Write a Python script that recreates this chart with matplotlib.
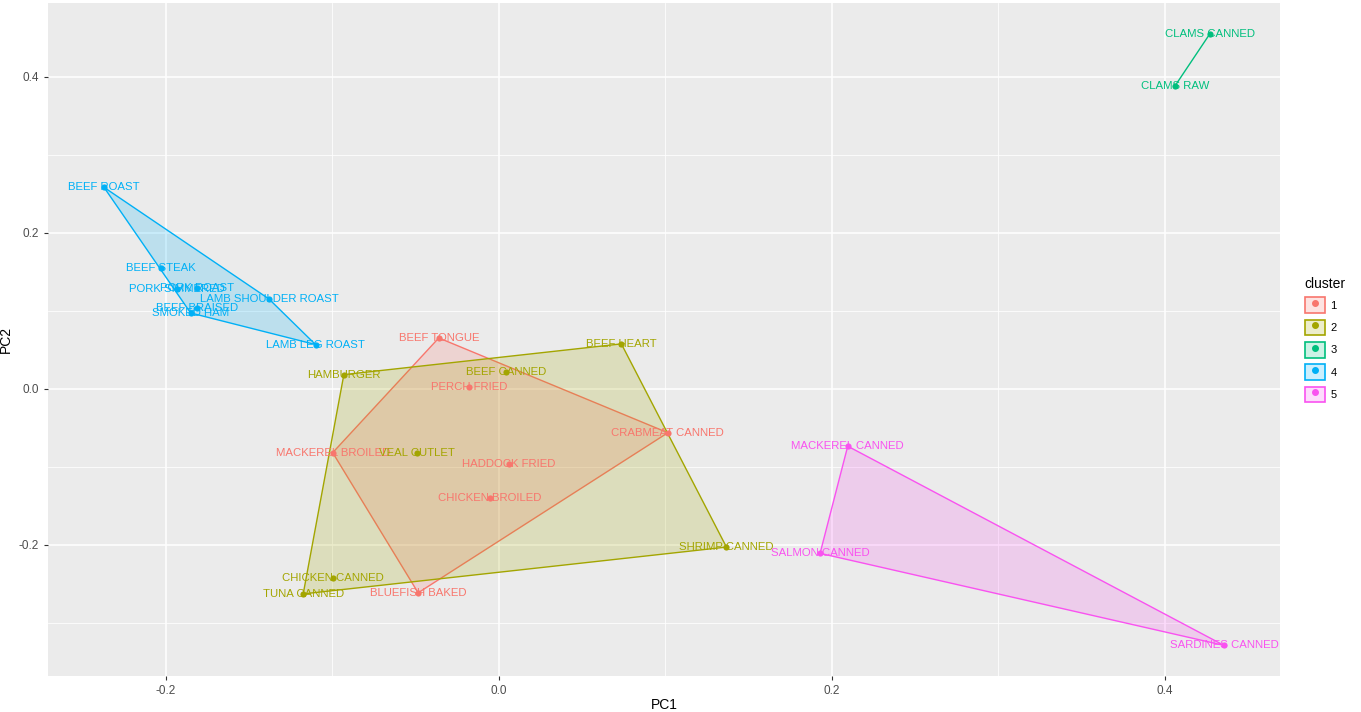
import numpy as np
import matplotlib
matplotlib.use('Agg')
from matplotlib import pyplot as plt
from matplotlib.patches import Polygon, Patch
from matplotlib.lines import Line2D
from matplotlib.legend_handler import HandlerTuple

# food items, PCA scores
names = ['BEEF TONGUE', 'PERCH FRIED', 'CRABMEAT CANNED', 'MACKEREL BROILED',
         'HADDOCK FRIED', 'CHICKEN BROILED', 'BLUEFISH BAKED',
         'BEEF HEART', 'HAMBURGER', 'BEEF CANNED', 'VEAL CUTLET',
         'CHICKEN CANNED', 'TUNA CANNED', 'SHRIMP CANNED',
         'CLAMS CANNED', 'CLAMS RAW',
         'BEEF ROAST', 'BEEF STEAK', 'PORK ROAST', 'PORK SIMMERED',
         'LAMB SHOULDER ROAST', 'BEEF BRAISED', 'SMOKED HAM', 'LAMB LEG ROAST',
         'MACKEREL CANNED', 'SALMON CANNED', 'SARDINES CANNED']
pc1 = [-0.036, -0.018, 0.1015, -0.0997, 0.0062, -0.0054, -0.0484,
       0.0736, -0.093, 0.0042, -0.049, -0.0994, -0.1174, 0.1367,
       0.427, 0.406,
       -0.237, -0.203, -0.181, -0.193, -0.138, -0.181, -0.185, -0.110,
       0.2095, 0.1929, 0.4354]
pc2 = [0.065, 0.0026, -0.0565, -0.082, -0.0968, -0.140, -0.2616,
       0.0574, 0.018, 0.021, -0.0826, -0.243, -0.263, -0.203,
       0.455, 0.388,
       0.258, 0.154, 0.129, 0.128, 0.115, 0.104, 0.097, 0.0565,
       -0.0737, -0.211, -0.329]
cluster = [1, 1, 1, 1, 1, 1, 1,
           2, 2, 2, 2, 2, 2, 2,
           3, 3,
           4, 4, 4, 4, 4, 4, 4, 4,
           5, 5, 5]
cluster_ids = [1, 2, 3, 4, 5]
colors = ['#F8766D', '#A3A500', '#00BF7D', '#00B0F6', '#F952F0']

pc1 = np.array(pc1)
pc2 = np.array(pc2)
cluster = np.array(cluster)


def hull(pts):
    pts = sorted(map(tuple, pts))
    if len(pts) < 3:
        return pts

    def cross(o, a, b):
        return (a[0]-o[0])*(b[1]-o[1]) - (a[1]-o[1])*(b[0]-o[0])

    lower = []
    for p in pts:
        while len(lower) >= 2 and cross(lower[-2], lower[-1], p) <= 0:
            lower.pop()
        lower.append(p)
    upper = []
    for p in reversed(pts):
        while len(upper) >= 2 and cross(upper[-2], upper[-1], p) <= 0:
            upper.pop()
        upper.append(p)
    return lower[:-1] + upper[:-1]


fig = plt.figure(figsize=(13.61, 7.12), dpi=100)
ax = fig.add_axes([48/1361, 36/712, (1280-48)/1361, (676-3)/712])
ax.set_facecolor('#EBEBEB')

for k, c in zip(cluster_ids, colors):
    m = cluster == k
    h = hull(np.column_stack([pc1[m], pc2[m]]))
    poly = Polygon(h, closed=True, facecolor=matplotlib.colors.to_rgba(c, 0.2),
                   edgecolor=c, linewidth=1.0, zorder=2)
    ax.add_patch(poly)

for k, c in zip(cluster_ids, colors):
    m = cluster == k
    ax.scatter(pc1[m], pc2[m], s=20, color=c, zorder=3, linewidths=0)

for n, x, y, k in zip(names, pc1, pc2, cluster):
    ax.text(x, y, n, color=colors[k-1], fontsize=8.2, ha='center', va='center',
            family='Liberation Sans', zorder=4)

# ggplot style 5% expansion
xr = pc1.max() - pc1.min()
yr = pc2.max() - pc2.min()
ax.set_xlim(pc1.min() - 0.05*xr, pc1.max() + 0.05*xr)
ax.set_ylim(pc2.min() - 0.05*yr, pc2.max() + 0.05*yr)

ax.set_xticks([-0.2, 0.0, 0.2, 0.4])
ax.set_xticklabels(['-0.2', '0.0', '0.2', '0.4'])
ax.set_yticks([-0.2, 0.0, 0.2, 0.4])
ax.set_yticklabels(['-0.2', '0.0', '0.2', '0.4'])
ax.set_xticks([-0.1, 0.1, 0.3], minor=True)
ax.set_yticks([-0.3, -0.1, 0.1, 0.3], minor=True)
ax.grid(which='major', color='white', linewidth=1.1, zorder=0)
ax.grid(which='minor', color='white', linewidth=0.55, zorder=0)
ax.set_axisbelow(True)
ax.tick_params(which='major', length=3, color='#333333', labelcolor='#4D4D4D',
               labelsize=8.5, width=0.8)
ax.tick_params(which='minor', length=0)
for lab in ax.get_xticklabels() + ax.get_yticklabels():
    lab.set_family('Liberation Sans')
for s in ax.spines.values():
    s.set_visible(False)

ax.set_xlabel('PC1', fontsize=10, family='Liberation Sans', labelpad=1)
ax.set_ylabel('PC2', fontsize=10, family='Liberation Sans', labelpad=4)

handles = []
for c in colors:
    box = Patch(facecolor=matplotlib.colors.to_rgba(c, 0.2), edgecolor=c, linewidth=1.2)
    dot = Line2D([], [], marker='o', color=c, linestyle='none', markersize=4)
    handles.append((box, dot))
leg = ax.legend(handles, [str(k) for k in cluster_ids], title='cluster',
                handler_map={tuple: HandlerTuple(ndivide=1, pad=0)},
                loc='center left', bbox_to_anchor=(1.012, 0.5), frameon=False,
                handlelength=1.8, handleheight=1.8, labelspacing=0.6,
                handletextpad=0.5, borderaxespad=0.5,
                prop={'family': 'Liberation Sans', 'size': 8})
leg.get_title().set_family('Liberation Sans')
leg.get_title().set_fontsize(10)
leg._legend_box.align = 'left'

fig.savefig('out.png', dpi=100)
